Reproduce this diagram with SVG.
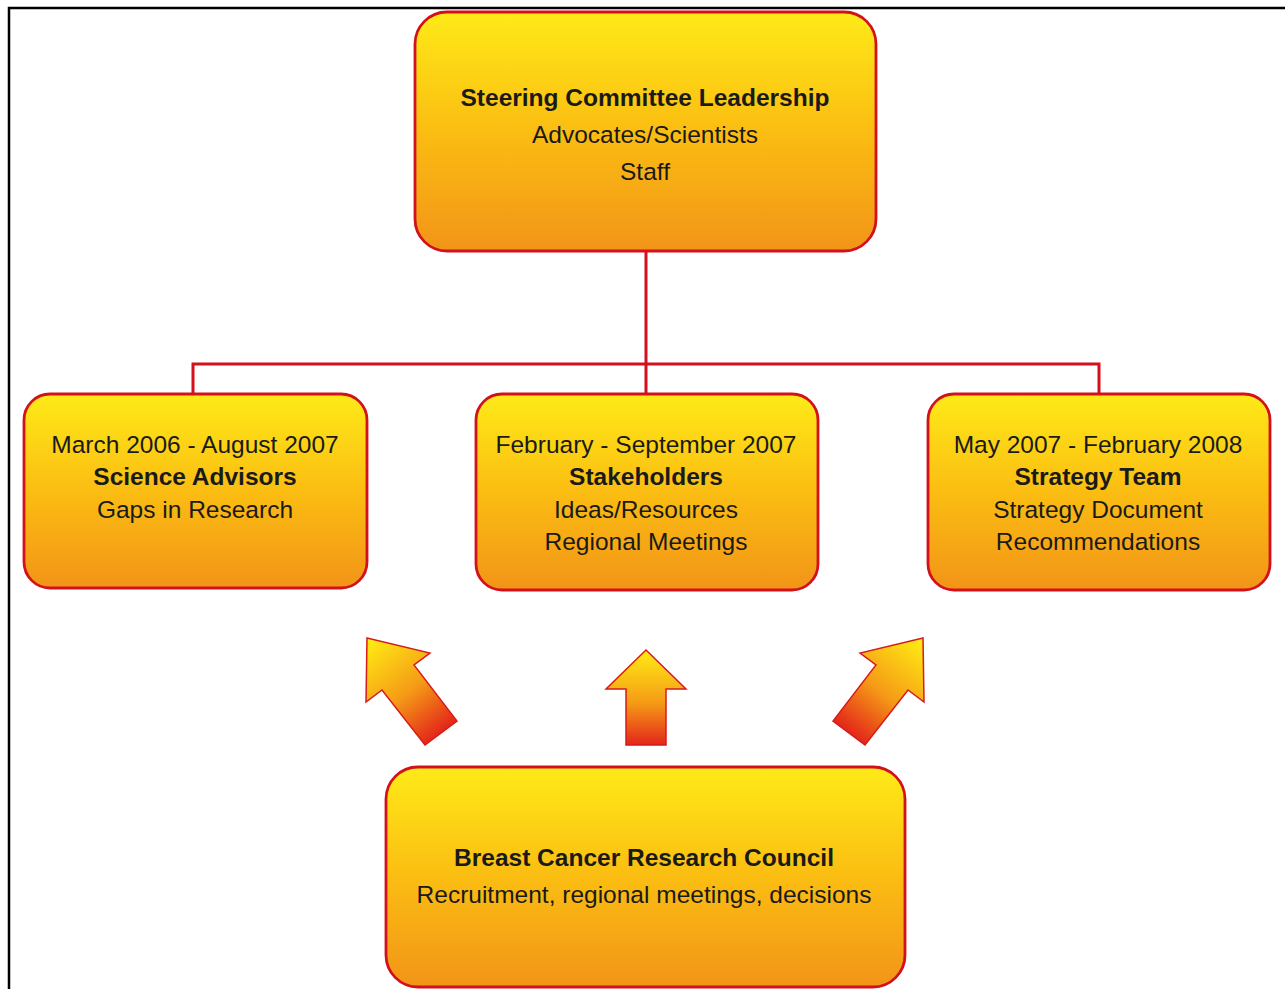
<svg xmlns="http://www.w3.org/2000/svg" width="1285" height="989" viewBox="0 0 1285 989">
<defs>
<linearGradient id="boxGrad" x1="0" y1="0" x2="0" y2="1">
<stop offset="0" stop-color="#feea18"/>
<stop offset="0.5" stop-color="#fbbd12"/>
<stop offset="1" stop-color="#f29418"/>
</linearGradient>
<linearGradient id="arrL" gradientUnits="userSpaceOnUse" x1="370" y1="642" x2="441" y2="733">
<stop offset="0" stop-color="#ffe914"/>
<stop offset="0.55" stop-color="#f59a16"/>
<stop offset="1" stop-color="#e3261a"/>
</linearGradient>
<linearGradient id="arrM" gradientUnits="userSpaceOnUse" x1="646" y1="652" x2="646" y2="745">
<stop offset="0" stop-color="#ffe914"/>
<stop offset="0.55" stop-color="#f59a16"/>
<stop offset="1" stop-color="#e3261a"/>
</linearGradient>
<linearGradient id="arrR" gradientUnits="userSpaceOnUse" x1="920" y1="642" x2="849" y2="733">
<stop offset="0" stop-color="#ffe914"/>
<stop offset="0.55" stop-color="#f59a16"/>
<stop offset="1" stop-color="#e3261a"/>
</linearGradient>
<style>
.box{fill:url(#boxGrad);stroke:#d3111c;stroke-width:2.8}
.arrow{stroke:#d81a1b;stroke-width:1.5;stroke-linejoin:miter}
.conn{fill:none;stroke:#d3111c;stroke-width:3}
text{font-family:"Liberation Sans",Arial,sans-serif;font-size:24.5px;fill:#1a1a1a;text-anchor:middle}
.b{font-weight:bold;font-size:24.5px}
</style>
</defs>
<rect x="0" y="0" width="1285" height="989" fill="#ffffff"/>
<path d="M9 989 V8 H1285" fill="none" stroke="#000" stroke-width="2.5"/>

<g id="connectors">
<path class="conn" d="M646 251 V364 M193 394 V364 H1099 V394 M646 364 V394"/>
</g>

<g id="steering">
<rect class="box" x="415" y="12" width="461" height="239" rx="32"/>
<text x="645" y="106" class="b">Steering Committee Leadership</text>
<text x="645" y="143">Advocates/Scientists</text>
<text x="645" y="180">Staff</text>
</g>

<g id="science">
<rect class="box" x="24" y="394" width="343" height="194" rx="26"/>
<text x="195" y="453">March 2006 - August 2007</text>
<text x="195" y="485" class="b">Science Advisors</text>
<text x="195" y="518">Gaps in Research</text>
</g>

<g id="stakeholders">
<rect class="box" x="476" y="394" width="342" height="196" rx="26"/>
<text x="646" y="453">February - September 2007</text>
<text x="646" y="485" class="b">Stakeholders</text>
<text x="646" y="518">Ideas/Resources</text>
<text x="646" y="550">Regional Meetings</text>
</g>

<g id="strategy">
<rect class="box" x="928" y="394" width="342" height="196" rx="26"/>
<text x="1098" y="453">May 2007 - February 2008</text>
<text x="1098" y="485" class="b">Strategy Team</text>
<text x="1098" y="518">Strategy Document</text>
<text x="1098" y="550">Recommendations</text>
</g>

<g id="council">
<rect class="box" x="386" y="767" width="519" height="220" rx="32"/>
<text x="644" y="866" class="b">Breast Cancer Research Council</text>
<text x="644" y="903">Recruitment, regional meetings, decisions</text>
</g>

<g id="arrows">
<polygon class="arrow" fill="url(#arrL)" points="367,638 430,653 414,665 457,721 425,745 382,690 366,702"/>
<polygon class="arrow" fill="url(#arrM)" points="646,650 686,689 666,689 666,745 626,745 626,689 606,689"/>
<polygon class="arrow" fill="url(#arrR)" points="923,638 860,653 876,665 833,721 865,745 908,690 924,702"/>
</g>
</svg>
